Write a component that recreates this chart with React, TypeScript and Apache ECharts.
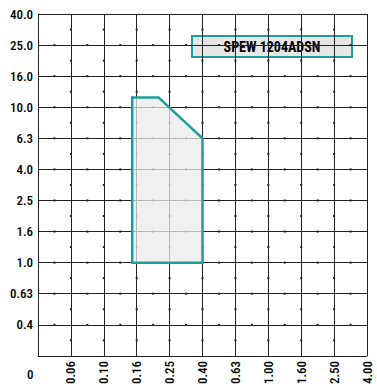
import React, { useEffect, useRef } from "react";
import * as echarts from "echarts";

const xTicks = [0, 0.06, 0.1, 0.16, 0.25, 0.4, 0.63, 1.0, 1.6, 2.5, 4.0];
const xTickLabels = ["0", "0.06", "0.10", "0.16", "0.25", "0.40", "0.63", "1.00", "1.60", "2.50", "4.00"];
const yTicks = [0, 0.4, 0.63, 1.0, 1.6, 2.5, 4.0, 6.3, 10, 16, 25, 40];
const yTickLabels = ["0", "0.4", "0.63", "1.0", "1.6", "2.5", "4.0", "6.3", "10.0", "16.0", "25.0", "40.0"];

// working region (feed fz, depth of cut ap)
const regionFeed = [0.15, 0.215, 0.4, 0.4, 0.15];
const regionDepth = [11.6, 11.6, 6.3, 1.0, 1.0];

const productName = "SPEW 1204ADSN";

const FONT = "'Roboto Condensed', 'DejaVu Sans Condensed', 'Roboto', sans-serif";

function toIndex(v: number, ticks: number[]): number {
  for (let i = 0; i < ticks.length - 1; i++) {
    const a = ticks[i];
    const b = ticks[i + 1];
    if (v >= a && v <= b) {
      if (a <= 0) return i + (v - a) / (b - a);
      return i + (Math.log(v) - Math.log(a)) / (Math.log(b) - Math.log(a));
    }
  }
  return ticks.length - 1;
}

export default function App() {
  const ref = useRef<HTMLDivElement>(null);
  useEffect(() => {
    if (!ref.current) return;
    const chart = echarts.init(ref.current, null, { renderer: "svg" });
    const nx = xTicks.length - 1;
    const ny = yTicks.length - 1;
    const polyPts = regionFeed.map((f, i) => [toIndex(f, xTicks), toIndex(regionDepth[i], yTicks)]);

    chart.setOption({
      animation: false,
      grid: { left: 38, top: 14, right: 10, bottom: 26.5, show: false },
      xAxis: {
        type: "value",
        min: 0,
        max: nx,
        interval: 1,
        axisLine: { show: true, lineStyle: { color: "#222", width: 1 } },
        axisTick: { show: false },
        splitLine: { show: true, lineStyle: { color: "#222", width: 1 } },
        axisLabel: {
          rotate: 90,
          margin: 5,
          fontFamily: FONT,
          fontSize: 13,
          fontWeight: 500,
          color: "#000",
          formatter: (v: number) => (Math.round(v) === 0 ? "" : xTickLabels[Math.round(v)] ?? ""),
        },
      },
      yAxis: {
        type: "value",
        min: 0,
        max: ny,
        interval: 1,
        axisLine: { show: true, lineStyle: { color: "#222", width: 1 } },
        axisTick: { show: false },
        splitLine: { show: true, lineStyle: { color: "#222", width: 1 } },
        axisLabel: {
          margin: 5,
          fontFamily: FONT,
          fontSize: 13,
          fontWeight: 500,
          color: "#000",
          formatter: (v: number) => (Math.round(v) === 0 ? "" : yTickLabels[Math.round(v)] ?? ""),
        },
      },
      graphic: [
        {
          type: "text",
          left: 27,
          top: 368,
          style: { text: yTickLabels[0], font: `500 13px ${FONT}`, fill: "#000" },
        },
        {
          type: "group",
          left: 191,
          top: 35,
          z: 100,
          children: [
            {
              type: "rect",
              shape: { x: 0, y: 0, width: 160, height: 21 },
              style: { fill: "#e6e6e6", stroke: "#1e9e9a", lineWidth: 2 },
            },
            {
              type: "text",
              x: 80,
              y: 11,
              style: {
                text: productName,
                font: `bold 14px ${FONT}`,
                fill: "#000",
                align: "center",
                verticalAlign: "middle",
              },
            },
          ],
        },
      ],
      series: [
        {
          type: "custom",
          silent: true,
          data: [[0, 0]],
          z: 3,
          renderItem: (_p: any, api: any) => {
            const children: any[] = [];
            for (let i = 1; i < nx; i++) {
              for (let j = 0; j < ny; j++) {
                const c = api.coord([i, j + 0.5]);
                children.push({ type: "rect", shape: { x: c[0] - 1, y: c[1] - 1, width: 2, height: 2 }, style: { fill: "#222" } });
              }
            }
            for (let j = 1; j < ny; j++) {
              for (let i = 0; i < nx; i++) {
                const c = api.coord([i + 0.5, j]);
                children.push({ type: "rect", shape: { x: c[0] - 1, y: c[1] - 1, width: 2, height: 2 }, style: { fill: "#222" } });
              }
            }
            return { type: "group", children };
          },
        },
        {
          type: "custom",
          silent: true,
          data: [[0, 0]],
          z: 5,
          renderItem: (_p: any, api: any) => ({
            type: "polygon",
            shape: { points: polyPts.map((p) => api.coord(p)) },
            style: { fill: "rgba(235,235,235,0.75)", stroke: "#1e9e9a", lineWidth: 2.5 },
          }),
        },
      ],
    });
    return () => chart.dispose();
  }, []);
  return <div ref={ref} style={{ width: 377, height: 387, position: "absolute", left: 0, top: 0 }} />;
}
